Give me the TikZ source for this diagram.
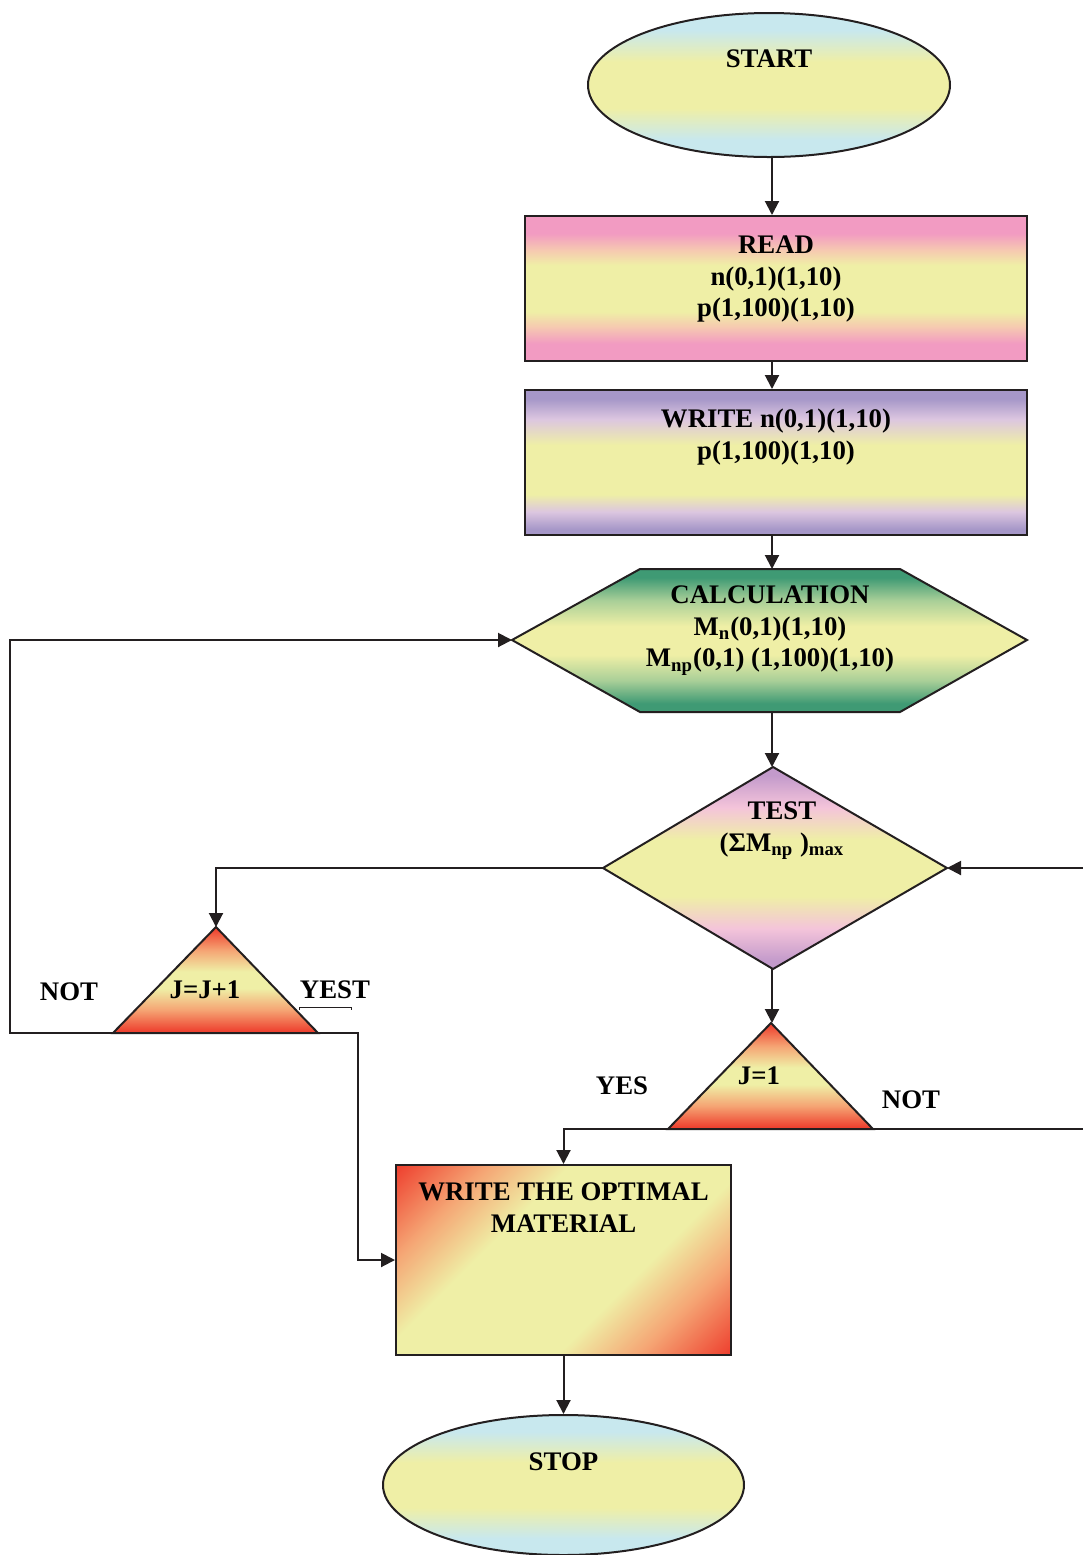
\documentclass[tikz,border=0pt]{standalone}
\usepackage{fontspec}
\setmainfont{Liberation Serif}
\usetikzlibrary{arrows.meta,shapes.geometric}
\definecolor{lineC}{HTML}{231F20}
\definecolor{cBlue}{HTML}{C8E8EE}
\definecolor{cYel}{HTML}{EFEFA6}
\definecolor{cPink}{HTML}{F29BC2}
\definecolor{cPeach}{HTML}{F6CBB0}
\definecolor{cPurp}{HTML}{A697C8}
\definecolor{cLav}{HTML}{DCC6E0}
\definecolor{cGreen}{HTML}{3F9A74}
\definecolor{cLGreen}{HTML}{A9CF98}
\definecolor{cMauve}{HTML}{C39ACB}
\definecolor{cRose}{HTML}{F4C4DA}
\definecolor{cRed}{HTML}{EE4230}
\definecolor{cOrange}{HTML}{F5A574}
\pgfdeclareverticalshading{shEll}{100bp}{color(0bp)=(cBlue); color(31bp)=(cBlue); color(42bp)=(cYel); color(58bp)=(cYel); color(69bp)=(cBlue); color(100bp)=(cBlue)}
\pgfdeclareverticalshading{shRead}{100bp}{color(0bp)=(cPink); color(31bp)=(cPink); color(37bp)=(cPeach); color(42bp)=(cYel); color(58bp)=(cYel); color(63bp)=(cPeach); color(69bp)=(cPink); color(100bp)=(cPink)}
\pgfdeclareverticalshading{shWrite}{100bp}{color(0bp)=(cPurp); color(27bp)=(cPurp); color(33bp)=(cLav); color(39bp)=(cYel); color(56bp)=(cYel); color(65bp)=(cLav); color(72bp)=(cPurp); color(100bp)=(cPurp)}
\pgfdeclareverticalshading{shHex}{100bp}{color(0bp)=(cGreen); color(28bp)=(cGreen); color(36bp)=(cLGreen); color(45bp)=(cYel); color(55bp)=(cYel); color(64bp)=(cLGreen); color(72bp)=(cGreen); color(100bp)=(cGreen)}
\pgfdeclareverticalshading{shDia}{100bp}{color(0bp)=(cMauve); color(27bp)=(cMauve); color(35bp)=(cRose); color(43bp)=(cYel); color(57bp)=(cYel); color(65bp)=(cRose); color(73bp)=(cMauve); color(100bp)=(cMauve)}
\pgfdeclareverticalshading{shTri}{100bp}{color(0bp)=(cRed); color(26bp)=(cRed); color(36bp)=(cOrange); color(46bp)=(cYel); color(54bp)=(cYel); color(64bp)=(cOrange); color(74bp)=(cRed); color(100bp)=(cRed)}
\pgfdeclareverticalshading{shDiag}{100bp}{color(0bp)=(cRed); color(15bp)=(cRed); color(27bp)=(cOrange); color(38bp)=(cYel); color(62bp)=(cYel); color(73bp)=(cOrange); color(85bp)=(cRed); color(100bp)=(cRed)}
\begin{document}
\begin{tikzpicture}[x=0.5pt,y=-0.5pt,color=lineC,line width=1pt,
  >={Triangle[length=7pt,width=7pt]},
  conn/.style={->,line width=1pt},
  box/.style={draw,line width=1pt,shade,inner sep=0pt},
  txt/.style={font=\bfseries\fontsize{13.4}{15.8}\selectfont,align=center,inner sep=0pt,anchor=north,text=black}]
\useasboundingbox (0,0) rectangle (1083,1555);
% shapes
\node[box,ellipse,shading=shEll,minimum width=181pt,minimum height=72pt] (start) at (769,85) {};
\node[txt] (startT) at (769,49) {START};
\node[box,rectangle,shading=shRead,minimum width=251pt,minimum height=72.5pt] (read) at (776,288.5) {};
\node[txt] (readT) at (776,235) {READ\\n(0,1)(1,10)\\p(1,100)(1,10)};
\node[box,rectangle,shading=shWrite,minimum width=251pt,minimum height=72.5pt] (write) at (776,462.5) {};
\node[txt] (writeT) at (776,408) {WRITE n(0,1)(1,10)\\p(1,100)(1,10)};
\shadedraw[shading=shHex] (512,640) -- (640,569) -- (900,569) -- (1027,640) -- (900,712) -- (640,712) -- cycle;
\coordinate (hexL) at (512,640);
\coordinate (hexT) at (770,569);
\coordinate (hexB) at (770,712);
\node[txt] (calcT) at (770,585) {CALCULATION\\M\textsubscript{n}(0,1)(1,10)\\M\textsubscript{np}(0,1) (1,100)(1,10)};
\shadedraw[shading=shDia] (773,767) -- (947,868) -- (773,969) -- (603,868) -- cycle;
\coordinate (diaT) at (773,767);
\coordinate (diaR) at (947,868);
\coordinate (diaB) at (773,969);
\coordinate (diaL) at (603,868);
\node[txt] (testT) at (782,801) {TEST\\(ΣM\textsubscript{np} )\textsubscript{max}};
\shadedraw[shading=shTri] (216,927) -- (318,1033) -- (113,1033) -- cycle;
\coordinate (t1A) at (216,927);
\coordinate (t1R) at (318,1033);
\coordinate (t1L) at (113,1033);
\node[txt] (incT) at (205,980) {J=J+1};
\shadedraw[shading=shTri] (771,1023) -- (873,1129) -- (668,1129) -- cycle;
\coordinate (t2A) at (771,1023);
\coordinate (t2R) at (873,1129);
\coordinate (t2L) at (668,1129);
\node[txt] (oneT) at (759,1066) {J=1};
\node[box,rectangle,shading=shDiag,shading angle=45,minimum width=167.5pt,minimum height=95pt] (opt) at (563.5,1260) {};
\node[txt] (optT) at (563.5,1182) {WRITE THE OPTIMAL\\MATERIAL};
\node[box,ellipse,shading=shEll,minimum width=180.5pt,minimum height=70pt] (stop) at (563.5,1485) {};
\node[txt] (stopT) at (563.5,1452) {STOP};
% labels
\node[txt] (not1) at (69,982) {NOT};
\node[txt] (yest) at (335,980) {YEST};
\node[txt] (yes) at (622,1076) {YES};
\node[txt] (not2) at (911,1090) {NOT};
\draw[line width=0.5pt] (299,1010) -- (299,1007) -- (351,1007) -- (351,1010);
% connectors
\coordinate (sp) at (772,0);
\coordinate (lx) at (10,0);
\coordinate (mx) at (358,0);
\coordinate (rx) at (1100,0);
\draw[conn] (start.south -| sp) -- (read.north -| sp);
\draw[conn] (read.south -| sp) -- (write.north -| sp);
\draw[conn] (write.south -| sp) -- (hexT -| sp);
\draw[conn] (hexB -| sp) -- (diaT -| sp);
\draw[conn] (diaL) -| (t1A);
\draw[conn] (t1L) -- (t1L -| lx) |- (hexL);
\draw[conn] (t1R) -- (t1R -| mx) |- (opt.west);
\draw[conn] (diaB -| sp) -- (t2A -| sp);
\draw[conn] (t2L) -| (opt.north);
\draw[conn] (t2R) -- (t2R -| rx) |- (diaR);
\draw[conn] (opt.south) -- (stop.north);
\end{tikzpicture}
\end{document}
